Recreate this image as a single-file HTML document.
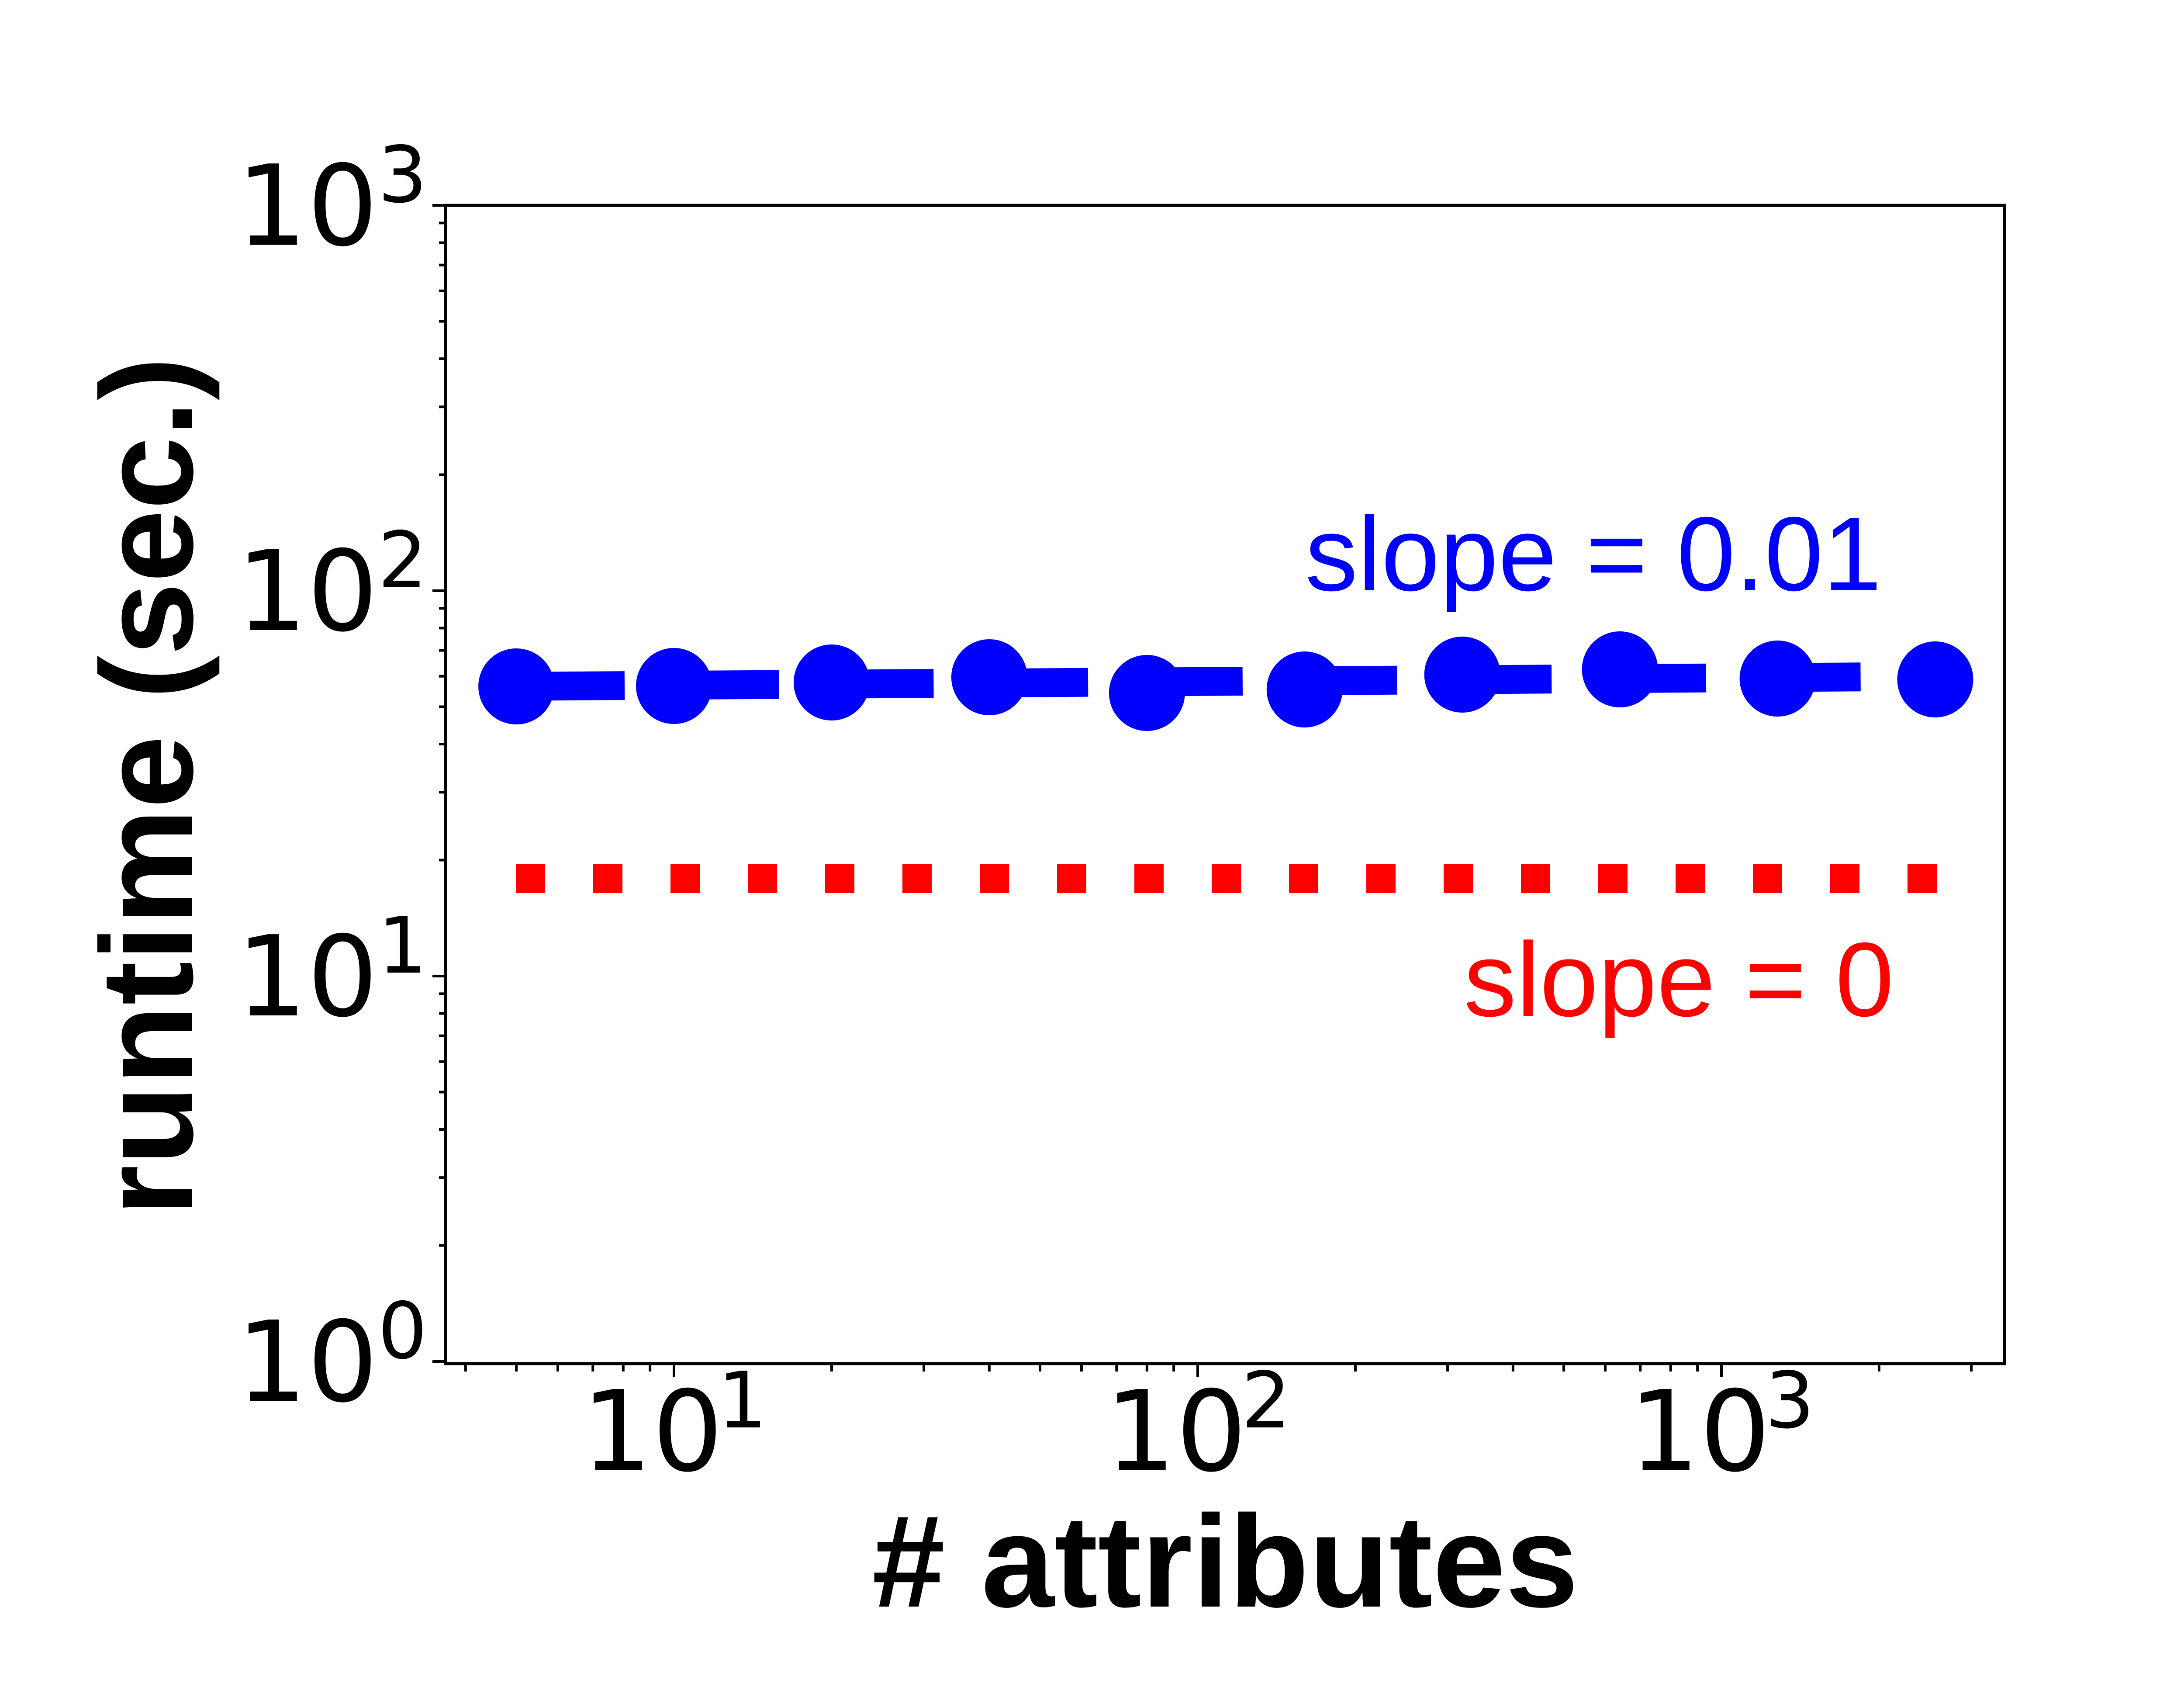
<!DOCTYPE html>
<html><head><meta charset="utf-8"><style>html,body{margin:0;padding:0;background:#fff}svg{display:block}</style></head>
<body>
<svg id="s" xmlns="http://www.w3.org/2000/svg" width="5100" height="3900" viewBox="0 0 5100 3900">
<rect width="5100" height="3900" fill="#fff"/>
<g id="ticks" stroke="#000" stroke-width="6"></g>
<g id="data"></g>
<rect x="1020" y="470" width="3569" height="2651" fill="none" stroke="#000" stroke-width="7"/>
<g font-family="DejaVu Sans, sans-serif" fill="#000">
<text x="541" y="560" font-size="255">10</text><text x="865" y="462" font-size="178">3</text>
<text x="541" y="1442" font-size="255">10</text><text x="865" y="1344" font-size="178">2</text>
<text x="541" y="2324" font-size="255">10</text><text x="865" y="2226" font-size="178">1</text>
<text x="541" y="3206" font-size="255">10</text><text x="865" y="3108" font-size="178">0</text>
<text x="1331" y="3365" font-size="255">10</text><text x="1643" y="3267" font-size="178">1</text>
<text x="2530" y="3365" font-size="255">10</text><text x="2842" y="3267" font-size="178">2</text>
<text x="3729" y="3365" font-size="255">10</text><text x="4041" y="3267" font-size="178">3</text>
</g>
<text x="2805" y="3677" font-family="Liberation Sans, sans-serif" font-weight="bold" font-size="300" text-anchor="middle">#&#160;attributes</text>
<text transform="translate(440,1800) rotate(-90)" font-family="Liberation Sans, sans-serif" font-weight="bold" font-size="300" text-anchor="middle">runtime (sec.)</text>
<text x="2988" y="1351" font-family="Liberation Sans, sans-serif" font-size="241" fill="#0000ff">slope = 0.01</text>
<text x="3351" y="2325" font-family="Liberation Sans, sans-serif" font-size="241" fill="#ff0000">slope = 0</text>
</svg>
<script>
var NS="http://www.w3.org/2000/svg";
function el(p,t,a){var e=document.createElementNS(NS,t);for(var k in a)e.setAttribute(k,a[k]);p.appendChild(e);return e;}
var T=document.getElementById('ticks'),D=document.getElementById('data');
function X(v){return 1543+1199*(Math.log10(v)-1);}
function Y(v){return 3116-882*Math.log10(v);}
// y ticks
for(var d=0;d<3;d++){for(var m=1;m<10;m++){var y=Y(m*Math.pow(10,d));el(T,'line',{x1:m==1?990:1005,x2:1020,y1:y,y2:y});}}
el(T,'line',{x1:990,x2:1020,y1:470,y2:470});
// x ticks
for(var d=0;d<4;d++){for(var m=1;m<10;m++){var v=m*Math.pow(10,d);var x=X(v);if(x<1022||x>4587)continue;el(T,'line',{x1:x,x2:x,y1:3121,y2:m==1?3151:3139});}}
// red dotted
for(var k=0;k<19;k++){el(D,'rect',{x:1181+k*177,y:1977,width:67,height:67,fill:'#ff0000'});}
// blue
var ys=[1571,1570,1562,1550,1586,1578,1544,1532,1553,1555];
for(var i=0;i<9;i++){var x0=X(5*Math.pow(2,i)),x1=1430+353.7*i;
 var ya=1570-(x0-1300)*0.007,yb=1570-(x1-1300)*0.007;
 el(D,'line',{x1:x0,y1:ya,x2:x1,y2:yb,stroke:'#0000ff','stroke-width':66});}
for(var i=0;i<10;i++){el(D,'circle',{cx:X(5*Math.pow(2,i)),cy:ys[i],r:87,fill:'#0000ff'});}
</script>
</body></html>
